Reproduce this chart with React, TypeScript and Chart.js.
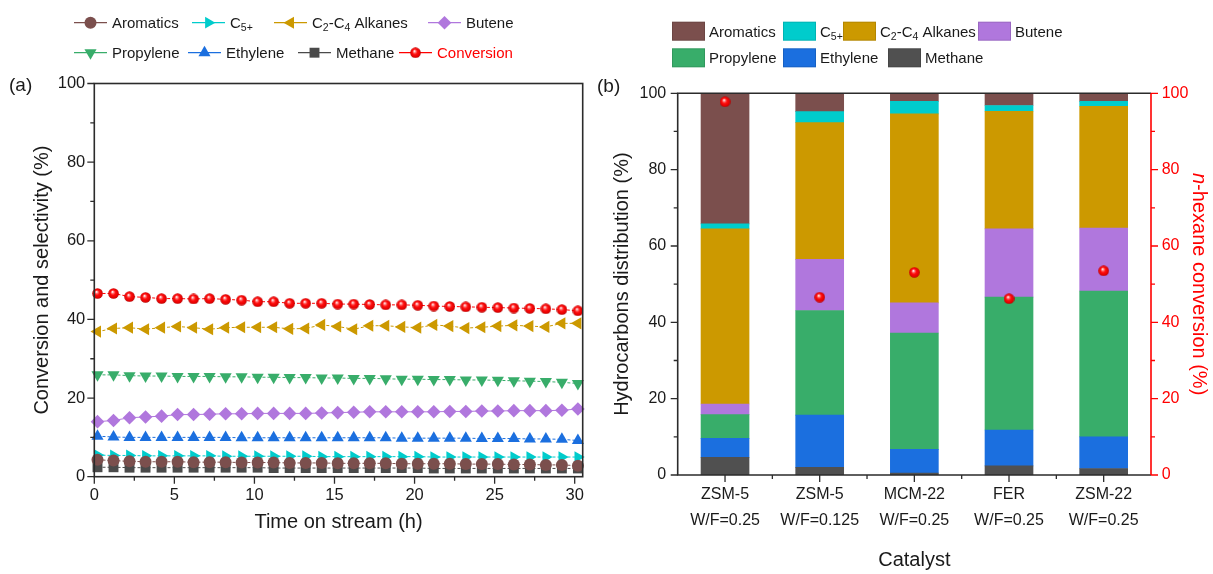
import React, { useEffect, useRef } from 'react';
import { Chart, registerables } from 'chart.js';
import { drawPoint } from 'chart.js/helpers';

Chart.register(...registerables);

const FONT = 'Arial, "Liberation Sans", Helvetica, sans-serif';
const INK = '#1a1a1a';
const AXIS = '#2b2b2b';
const RED = '#ff0000';

// Canvas geometry of the two panels (the transparent canvases overlap slightly)
const W = 1213;
const H = 574;
const LEFT_W = 600; // width of panel (a) canvas
const SPLIT = 588; // page x where panel (b) canvas begins

// Series colours shared by both panels
const C_AROM = '#7b4f4d';
const C_C5 = '#00cccc';
const C_ALK = '#cc9900';
const C_BUT = '#b077dd';
const C_PROP = '#38ad6a';
const C_ETH = '#1b6fdf';
const C_METH = '#4a4a4a';

// ---------- (a) selectivity vs. time on stream ----------
const hours = [0.2, 1.2, 2.2, 3.2, 4.2, 5.2, 6.2, 7.2, 8.2, 9.2, 10.2, 11.2, 12.2, 13.2, 14.2, 15.2, 16.2, 17.2, 18.2, 19.2, 20.2, 21.2, 22.2, 23.2, 24.2, 25.2, 26.2, 27.2, 28.2, 29.2, 30.2];
const hourTicks = [0, 5, 10, 15, 20, 25, 30];
const percentTicks = [0, 20, 40, 60, 80, 100];

const aromaticsSel = [4.3, 4.1, 3.9, 3.8, 3.8, 3.8, 3.7, 3.7, 3.7, 3.6, 3.6, 3.6, 3.5, 3.5, 3.5, 3.4, 3.4, 3.4, 3.4, 3.3, 3.3, 3.3, 3.3, 3.2, 3.2, 3.2, 3.1, 3.1, 3.0, 3.0, 2.8];
const c5Sel = [5.5, 5.4, 5.4, 5.3, 5.3, 5.3, 5.3, 5.3, 5.2, 5.2, 5.2, 5.2, 5.2, 5.2, 5.1, 5.1, 5.1, 5.1, 5.1, 5.1, 5.1, 5.0, 5.0, 5.0, 5.0, 5.0, 5.0, 5.0, 5.0, 5.0, 5.0];
const alkanesSel = [36.9, 37.7, 37.9, 37.5, 37.9, 38.2, 37.9, 37.5, 37.9, 38.0, 38.0, 38.0, 37.6, 37.7, 38.6, 38.2, 37.5, 38.4, 38.4, 38.1, 37.9, 38.6, 38.3, 37.8, 38.0, 38.3, 38.5, 38.3, 38.1, 39.0, 39.0];
const buteneSel = [14.0, 14.3, 15.0, 15.2, 15.4, 15.8, 15.8, 15.9, 16.0, 16.0, 16.1, 16.1, 16.1, 16.1, 16.2, 16.3, 16.4, 16.5, 16.5, 16.5, 16.5, 16.5, 16.6, 16.6, 16.7, 16.7, 16.8, 16.8, 16.8, 16.9, 17.2];
const propyleneSel = [25.9, 25.9, 25.7, 25.6, 25.6, 25.5, 25.5, 25.5, 25.4, 25.4, 25.3, 25.3, 25.2, 25.2, 25.1, 25.1, 25.0, 25.0, 24.9, 24.8, 24.8, 24.7, 24.7, 24.6, 24.6, 24.5, 24.4, 24.3, 24.2, 24.0, 23.7];
const ethyleneSel = [10.3, 10.1, 10.0, 10.0, 10.0, 10.0, 10.0, 10.0, 10.0, 9.9, 9.9, 9.9, 9.9, 9.9, 9.9, 9.9, 9.9, 9.9, 9.9, 9.8, 9.8, 9.8, 9.8, 9.8, 9.7, 9.7, 9.7, 9.6, 9.6, 9.5, 9.2];
const methaneSel = [2.4, 2.4, 2.3, 2.3, 2.3, 2.3, 2.3, 2.3, 2.3, 2.3, 2.3, 2.2, 2.2, 2.2, 2.2, 2.2, 2.2, 2.2, 2.2, 2.2, 2.2, 2.1, 2.1, 2.1, 2.1, 2.1, 2.1, 2.1, 2.1, 2.1, 2.1];
const conversionTos = [46.6, 46.6, 45.8, 45.6, 45.3, 45.3, 45.2, 45.3, 45.1, 44.9, 44.5, 44.5, 44.1, 44.1, 44.1, 43.9, 43.9, 43.8, 43.7, 43.7, 43.6, 43.4, 43.3, 43.2, 43.1, 43.0, 42.9, 42.8, 42.7, 42.5, 42.2];

// ---------- (b) product distribution per catalyst ----------
const catalysts = ['ZSM-5', 'ZSM-5', 'MCM-22', 'FER', 'ZSM-22'];
const contactTimes = ['W/F=0.25', 'W/F=0.125', 'W/F=0.25', 'W/F=0.25', 'W/F=0.25'];
const distMethane = [4.6, 2.0, 0.5, 2.4, 1.7];
const distEthylene = [5.0, 13.7, 6.2, 9.4, 8.3];
const distPropylene = [6.2, 27.4, 30.5, 34.8, 38.2];
const distButene = [2.8, 13.4, 7.9, 17.9, 16.5];
const distAlkanes = [45.9, 35.8, 49.5, 30.8, 31.9];
const distC5 = [1.3, 2.9, 3.3, 1.5, 1.3];
const distAromatics = [34.2, 4.8, 2.1, 3.2, 2.1];
const hexaneConversion = [97.8, 46.6, 53.1, 46.2, 53.5];

type Seg = { t: string; sub?: boolean; it?: boolean };
const L_AROM: Seg[] = [{ t: 'Aromatics' }];
const L_C5: Seg[] = [{ t: 'C' }, { t: '5+', sub: true }];
const L_ALK: Seg[] = [{ t: 'C' }, { t: '2', sub: true }, { t: '-C' }, { t: '4', sub: true }, { t: ' Alkanes' }];
const L_BUT: Seg[] = [{ t: 'Butene' }];
const L_PROP: Seg[] = [{ t: 'Propylene' }];
const L_ETH: Seg[] = [{ t: 'Ethylene' }];
const L_METH: Seg[] = [{ t: 'Methane' }];
const L_CONV: Seg[] = [{ t: 'Conversion' }];

function setSegFont(ctx: CanvasRenderingContext2D, s: Seg, size: number) {
  const px = s.sub ? size * 0.7 : size;
  ctx.font = `${s.it ? 'italic ' : ''}${px}px ${FONT}`;
}

function richWidth(ctx: CanvasRenderingContext2D, segs: Seg[], size: number) {
  let w = 0;
  for (const s of segs) {
    setSegFont(ctx, s, size);
    w += ctx.measureText(s.t).width;
  }
  return w;
}

// Draws mixed text (subscripts / italics) with y as the alphabetic baseline
function drawRich(ctx: CanvasRenderingContext2D, segs: Seg[], x: number, y: number, size: number, color: string, center = false) {
  let cx = center ? x - richWidth(ctx, segs, size) / 2 : x;
  ctx.fillStyle = color;
  ctx.textAlign = 'left';
  ctx.textBaseline = 'alphabetic';
  for (const s of segs) {
    setSegFont(ctx, s, size);
    ctx.fillText(s.t, cx, s.sub ? y + size * 0.2 : y);
    cx += ctx.measureText(s.t).width;
  }
}

function drawRotated(ctx: CanvasRenderingContext2D, segs: Seg[], x: number, y: number, angle: number, size: number, color: string) {
  ctx.save();
  ctx.translate(x, y);
  ctx.rotate(angle);
  drawRich(ctx, segs, 0, 0, size, color, true);
  ctx.restore();
}

// Shaded red ball used as the conversion marker
function makeSphere(d: number): HTMLCanvasElement {
  const c = document.createElement('canvas');
  c.width = d;
  c.height = d;
  const g = c.getContext('2d')!;
  const r = d / 2;
  const grad = g.createRadialGradient(r * 0.8, r * 0.7, r * 0.05, r, r, r);
  grad.addColorStop(0, '#ffffff');
  grad.addColorStop(0.22, '#ff6a6a');
  grad.addColorStop(0.45, '#ff0d0d');
  grad.addColorStop(0.85, '#e00000');
  grad.addColorStop(1, '#a00000');
  g.fillStyle = grad;
  g.beginPath();
  g.arc(r, r, r - 0.2, 0, Math.PI * 2);
  g.fill();
  return c;
}

function makeLeftConfig(sphere: HTMLCanvasElement): any {
  const series = (label: string, values: number[], color: string, style: any, radius: number, rotation: number, dash: number[]) => ({
    label,
    data: hours.map((h, i) => ({ x: h, y: values[i] })),
    borderColor: color,
    backgroundColor: color,
    pointBackgroundColor: color,
    pointBorderColor: color,
    pointStyle: style,
    pointRadius: radius,
    pointRotation: rotation,
    pointBorderWidth: 0,
    borderWidth: 1,
    borderDash: dash,
    tension: 0,
    clip: false,
  });

  const datasets = [
    series('Aromatics', aromaticsSel, C_AROM, 'circle', 6, 0, [3, 2]),
    series('C5+', c5Sel, C_C5, 'triangle', 6.8, 90, [3, 2]),
    series('C2-C4 Alkanes', alkanesSel, C_ALK, 'triangle', 7, 270, [3, 2]),
    series('Butene', buteneSel, C_BUT, 'rectRot', 6.8, 0, []),
    series('Propylene', propyleneSel, C_PROP, 'triangle', 7, 180, [3, 2]),
    series('Ethylene', ethyleneSel, C_ETH, 'triangle', 7, 0, [3, 2]),
    series('Methane', methaneSel, C_METH, 'rect', 7, 0, [3, 2]),
    series('Conversion', conversionTos, RED, sphere, 5.5, 0, [3, 2]),
  ];

  const legendLabels = [L_AROM, L_C5, L_ALK, L_BUT, L_PROP, L_ETH, L_METH, L_CONV];
  const legendSlots = [[74, 22.7], [192, 22.7], [274, 22.7], [428, 22.7], [74, 52.7], [188, 52.7], [298, 52.7], [399, 52.7]];

  const decor = {
    id: 'decorA',
    afterDraw(chart: any) {
      const { ctx, chartArea: a } = chart;
      const xs = chart.scales.x;
      const ys = chart.scales.y;
      ctx.save();
      // box frame
      ctx.strokeStyle = AXIS;
      ctx.lineWidth = 1.6;
      ctx.setLineDash([]);
      ctx.strokeRect(a.left, a.top, a.right - a.left, a.bottom - a.top);
      // major / minor ticks, pointing outwards
      ctx.lineWidth = 1.3;
      ctx.beginPath();
      for (let v = 0; v <= 100; v += 10) {
        const py = ys.getPixelForValue(v);
        const len = v % 20 === 0 ? 7 : 4;
        ctx.moveTo(a.left, py);
        ctx.lineTo(a.left - len, py);
      }
      for (let v = 0; v <= 30; v += 2.5) {
        const px = xs.getPixelForValue(v);
        const len = v % 5 === 0 ? 7 : 4;
        ctx.moveTo(px, a.bottom);
        ctx.lineTo(px, a.bottom + len);
      }
      ctx.stroke();

      // legend
      chart.data.datasets.forEach((ds: any, i: number) => {
        const [lx, ly] = legendSlots[i];
        ctx.strokeStyle = ds.borderColor;
        ctx.lineWidth = 1.3;
        ctx.beginPath();
        ctx.moveTo(lx, ly);
        ctx.lineTo(lx + 33, ly);
        ctx.stroke();
        ctx.fillStyle = ds.pointBackgroundColor;
        drawPoint(ctx, { pointStyle: ds.pointStyle, rotation: ds.pointRotation, radius: ds.pointRadius, borderWidth: 0 } as any, lx + 16.5, ly);
        drawRich(ctx, legendLabels[i], lx + 38, ly + 5.3, 15, ds.label === 'Conversion' ? RED : INK);
      });

      // titles
      drawRich(ctx, [{ t: '(a)' }], 9, 91, 19, INK);
      drawRich(ctx, [{ t: 'Time on stream (h)' }], (a.left + a.right) / 2, 528, 20, INK, true);
      drawRotated(ctx, [{ t: 'Conversion and selectivity (%)' }], 48, (a.top + a.bottom) / 2, -Math.PI / 2, 20, INK);
      ctx.restore();
    },
  };

  return {
    type: 'line',
    data: { datasets },
    options: {
      animation: false,
      responsive: false,
      maintainAspectRatio: false,
      layout: { padding: { top: 83.5, right: LEFT_W - 582.7, left: 0, bottom: 0 } },
      plugins: { legend: { display: false }, tooltip: { enabled: false } },
      scales: {
        x: {
          type: 'linear',
          min: 0,
          max: 30.5,
          afterFit: (s: any) => { s.height = H - 476.7; },
          afterBuildTicks: (s: any) => { s.ticks = hourTicks.map((v) => ({ value: v })); },
          grid: { display: false, drawTicks: false },
          border: { display: false },
          ticks: { color: INK, font: { size: 16.5, family: FONT }, padding: 9, maxRotation: 0, autoSkip: false },
        },
        y: {
          min: 0,
          max: 100,
          afterFit: (s: any) => { s.width = 94.3; },
          afterBuildTicks: (s: any) => { s.ticks = percentTicks.map((v) => ({ value: v })); },
          grid: { display: false, drawTicks: false },
          border: { display: false },
          ticks: { color: INK, font: { size: 16.5, family: FONT }, padding: 9 },
        },
      },
    },
    plugins: [decor],
  };
}

function makeRightConfig(sphere: HTMLCanvasElement): any {
  const bar = (label: string, values: number[], color: string) => ({
    type: 'bar',
    label,
    data: values,
    backgroundColor: color,
    borderWidth: 0,
    barThickness: 48,
    order: 1,
    yAxisID: 'y',
  });

  // stacked from the bottom up
  const datasets: any[] = [
    bar('Methane', distMethane, '#505050'),
    bar('Ethylene', distEthylene, C_ETH),
    bar('Propylene', distPropylene, C_PROP),
    bar('Butene', distButene, C_BUT),
    bar('C2-C4 Alkanes', distAlkanes, C_ALK),
    bar('C5+', distC5, C_C5),
    bar('Aromatics', distAromatics, C_AROM),
    {
      type: 'line',
      label: 'n-hexane conversion',
      data: hexaneConversion,
      yAxisID: 'y2',
      showLine: false,
      pointStyle: sphere,
      pointRadius: 5.5,
      order: 0,
      clip: false,
    },
  ];

  // legend slots in page coordinates (box left, box top)
  const legendLabels = [L_METH, L_ETH, L_PROP, L_BUT, L_ALK, L_C5, L_AROM];
  const legendSlots = [[888, 48.3], [783, 48.3], [672, 48.3], [978, 21.7], [843, 21.7], [783, 21.7], [672, 21.7]];

  const decor = {
    id: 'decorB',
    afterDraw(chart: any) {
      const { ctx, chartArea: a } = chart;
      const xs = chart.scales.x;
      const ys = chart.scales.y;
      const y2 = chart.scales.y2;
      ctx.save();
      ctx.setLineDash([]);
      ctx.lineWidth = 1.6;
      ctx.strokeStyle = AXIS;
      ctx.beginPath();
      ctx.moveTo(a.right, a.top);
      ctx.lineTo(a.left, a.top);
      ctx.lineTo(a.left, a.bottom);
      ctx.lineTo(a.right, a.bottom);
      ctx.stroke();
      ctx.strokeStyle = RED;
      ctx.beginPath();
      ctx.moveTo(a.right, a.top);
      ctx.lineTo(a.right, a.bottom);
      ctx.stroke();

      ctx.lineWidth = 1.3;
      ctx.strokeStyle = AXIS;
      ctx.beginPath();
      for (let v = 0; v <= 100; v += 10) {
        const py = ys.getPixelForValue(v);
        const len = v % 20 === 0 ? 7 : 4;
        ctx.moveTo(a.left, py);
        ctx.lineTo(a.left - len, py);
      }
      for (let i = 0; i < catalysts.length; i++) {
        const px = xs.getPixelForValue(i);
        ctx.moveTo(px, a.bottom);
        ctx.lineTo(px, a.bottom + 7);
        if (i < catalysts.length - 1) {
          const pm = xs.getPixelForValue(i + 0.5);
          ctx.moveTo(pm, a.bottom);
          ctx.lineTo(pm, a.bottom + 4);
        }
      }
      ctx.stroke();
      ctx.strokeStyle = RED;
      ctx.beginPath();
      for (let v = 0; v <= 100; v += 10) {
        const py = y2.getPixelForValue(v);
        const len = v % 20 === 0 ? 7 : 4;
        ctx.moveTo(a.right, py);
        ctx.lineTo(a.right + len, py);
      }
      ctx.stroke();

      // legend
      for (let i = 0; i < legendLabels.length; i++) {
        const ds = chart.data.datasets[i];
        const bx = legendSlots[i][0] - SPLIT;
        const by = legendSlots[i][1];
        ctx.fillStyle = ds.backgroundColor;
        ctx.fillRect(bx, by, 33, 19);
        ctx.strokeStyle = 'rgba(0,0,0,0.12)';
        ctx.lineWidth = 1;
        ctx.strokeRect(bx + 0.5, by + 0.5, 32, 18);
        drawRich(ctx, legendLabels[i], bx + 37, by + 14.8, 15, INK);
      }

      // titles
      drawRich(ctx, [{ t: '(b)' }], 597 - SPLIT, 92, 19, INK);
      drawRich(ctx, [{ t: 'Catalyst' }], (a.left + a.right) / 2, 566, 20, INK, true);
      drawRotated(ctx, [{ t: 'Hydrocarbons distribution (%)' }], 628 - SPLIT, (a.top + a.bottom) / 2, -Math.PI / 2, 20, INK);
      drawRotated(ctx, [{ t: 'n', it: true }, { t: '-hexane conversion (%)' }], 1193 - SPLIT, (a.top + a.bottom) / 2, Math.PI / 2, 20, RED);
      ctx.restore();
    },
  };

  return {
    type: 'bar',
    data: { labels: catalysts.map((c, i) => [c, contactTimes[i]]), datasets },
    options: {
      animation: false,
      responsive: false,
      maintainAspectRatio: false,
      layout: { padding: { top: 93.3, right: 0, left: 0, bottom: 0 } },
      plugins: { legend: { display: false }, tooltip: { enabled: false } },
      scales: {
        x: {
          stacked: true,
          offset: true,
          afterFit: (s: any) => { s.height = H - 475; },
          grid: { display: false, drawTicks: false },
          border: { display: false },
          ticks: { color: INK, font: { size: 16, family: FONT, lineHeight: 1.58 }, padding: 7.4, maxRotation: 0, autoSkip: false },
        },
        y: {
          stacked: true,
          min: 0,
          max: 100,
          afterFit: (s: any) => { s.width = 677.7 - SPLIT; },
          afterBuildTicks: (s: any) => { s.ticks = percentTicks.map((v) => ({ value: v })); },
          grid: { display: false, drawTicks: false },
          border: { display: false },
          ticks: { color: INK, font: { size: 16, family: FONT }, padding: 11.5 },
        },
        y2: {
          position: 'right',
          min: 0,
          max: 100,
          afterFit: (s: any) => { s.width = W - 1151; },
          afterBuildTicks: (s: any) => { s.ticks = percentTicks.map((v) => ({ value: v })); },
          grid: { display: false, drawTicks: false },
          border: { display: false },
          ticks: { color: RED, font: { size: 16, family: FONT }, padding: 10.7 },
        },
      },
    },
    plugins: [decor],
  };
}

export default function App() {
  const leftRef = useRef<HTMLCanvasElement>(null);
  const rightRef = useRef<HTMLCanvasElement>(null);

  useEffect(() => {
    document.body.style.margin = '0';
    const left = new Chart(leftRef.current!, makeLeftConfig(makeSphere(11)));
    const right = new Chart(rightRef.current!, makeRightConfig(makeSphere(11)));
    return () => {
      left.destroy();
      right.destroy();
    };
  }, []);

  return (
    <div style={{ position: 'relative', width: W, height: H, background: '#ffffff' }}>
      <canvas ref={leftRef} width={LEFT_W} height={H} style={{ position: 'absolute', left: 0, top: 0 }} />
      <canvas ref={rightRef} width={W - SPLIT} height={H} style={{ position: 'absolute', left: SPLIT, top: 0 }} />
    </div>
  );
}
